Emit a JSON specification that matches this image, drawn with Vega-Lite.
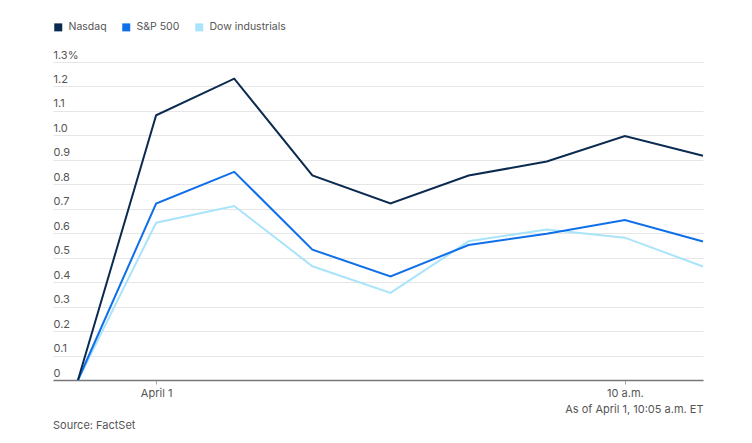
{
  "$schema": "https://vega.github.io/schema/vega-lite/v6.json",
  "width": 650,
  "height": 318,
  "autosize": {"type": "none"},
  "padding": {"left": 53, "top": 62, "right": 49, "bottom": 63},
  "background": "white",
  "config": {
    "font": "Inter",
    "view": {"stroke": null},
    "axis": {"labelFont": "Inter", "titleFont": "Inter"}
  },
  "title": {
    "text": "Source: FactSet",
    "orient": "bottom",
    "anchor": "start",
    "frame": "group",
    "fontSize": 11,
    "fontWeight": "normal",
    "color": "#555555",
    "offset": 6
  },
  "data": {
    "values": [
      {"time": "2025-04-01T09:25:00Z", "series": "Dow industrials", "change": 0},
      {"time": "2025-04-01T09:30:00Z", "series": "Dow industrials", "change": 0.643},
      {"time": "2025-04-01T09:35:00Z", "series": "Dow industrials", "change": 0.711},
      {"time": "2025-04-01T09:40:00Z", "series": "Dow industrials", "change": 0.465},
      {"time": "2025-04-01T09:45:00Z", "series": "Dow industrials", "change": 0.356},
      {"time": "2025-04-01T09:50:00Z", "series": "Dow industrials", "change": 0.567},
      {"time": "2025-04-01T09:55:00Z", "series": "Dow industrials", "change": 0.615},
      {"time": "2025-04-01T10:00:00Z", "series": "Dow industrials", "change": 0.582},
      {"time": "2025-04-01T10:05:00Z", "series": "Dow industrials", "change": 0.464},
      {"time": "2025-04-01T09:25:00Z", "series": "S&P 500", "change": 0},
      {"time": "2025-04-01T09:30:00Z", "series": "S&P 500", "change": 0.721},
      {"time": "2025-04-01T09:35:00Z", "series": "S&P 500", "change": 0.851},
      {"time": "2025-04-01T09:40:00Z", "series": "S&P 500", "change": 0.533},
      {"time": "2025-04-01T09:45:00Z", "series": "S&P 500", "change": 0.423},
      {"time": "2025-04-01T09:50:00Z", "series": "S&P 500", "change": 0.552},
      {"time": "2025-04-01T09:55:00Z", "series": "S&P 500", "change": 0.598},
      {"time": "2025-04-01T10:00:00Z", "series": "S&P 500", "change": 0.654},
      {"time": "2025-04-01T10:05:00Z", "series": "S&P 500", "change": 0.566},
      {"time": "2025-04-01T09:25:00Z", "series": "Nasdaq", "change": 0},
      {"time": "2025-04-01T09:30:00Z", "series": "Nasdaq", "change": 1.082},
      {"time": "2025-04-01T09:35:00Z", "series": "Nasdaq", "change": 1.232},
      {"time": "2025-04-01T09:40:00Z", "series": "Nasdaq", "change": 0.836},
      {"time": "2025-04-01T09:45:00Z", "series": "Nasdaq", "change": 0.722},
      {"time": "2025-04-01T09:50:00Z", "series": "Nasdaq", "change": 0.836},
      {"time": "2025-04-01T09:55:00Z", "series": "Nasdaq", "change": 0.893},
      {"time": "2025-04-01T10:00:00Z", "series": "Nasdaq", "change": 0.997},
      {"time": "2025-04-01T10:05:00Z", "series": "Nasdaq", "change": 0.917}
    ]
  },
  "mark": {"type": "line", "strokeWidth": 2, "strokeJoin": "miter"},
  "encoding": {
    "x": {
      "field": "time",
      "type": "temporal",
      "scale": {"type": "utc", "domain": ["2025-04-01T09:23:24Z", "2025-04-01T10:05:00Z"]},
      "axis": {
        "values": ["2025-04-01T09:30:00Z", "2025-04-01T10:00:00Z"],
        "labelExpr": "utchours(datum.value) == 10 ? '10 a.m.' : 'April 1'",
        "grid": false,
        "domainColor": "#777777",
        "domainWidth": 1.5,
        "tickColor": "#aaaaaa",
        "tickSize": 4,
        "labelColor": "#555555",
        "labelFontSize": 11,
        "labelPadding": 3,
        "labelFlush": false,
        "title": "As of April 1, 10:05 a.m. ET",
        "titleAnchor": "end",
        "titleAlign": "right",
        "titleFontSize": 11,
        "titleFontWeight": "normal",
        "titleColor": "#555555",
        "titlePadding": 5
      }
    },
    "y": {
      "field": "change",
      "type": "quantitative",
      "scale": {"domain": [0, 1.3], "nice": false},
      "axis": {
        "values": [0, 0.1, 0.2, 0.3, 0.4, 0.5, 0.6, 0.7, 0.8, 0.9, 1.0, 1.1, 1.2, 1.3],
        "labelExpr": "datum.value == 0 ? '0' : (abs(datum.value - 1.3) < 0.001 ? '1.3%' : format(datum.value, '.1f'))",
        "domain": false,
        "ticks": false,
        "labelAlign": "left",
        "labelBaseline": "alphabetic",
        "labelPadding": 0,
        "labelOffset": -4,
        "labelColor": "#555555",
        "labelFontSize": 11,
        "gridColor": "#e6e6e6",
        "gridWidth": 1,
        "title": null
      }
    },
    "color": {
      "field": "series",
      "type": "nominal",
      "scale": {
        "domain": ["Nasdaq", "S&P 500", "Dow industrials"],
        "range": ["#0b2a4f", "#0f6fe8", "#a9e4fb"]
      },
      "legend": {
        "orient": "none",
        "legendX": 0,
        "legendY": -40,
        "direction": "horizontal",
        "title": null,
        "symbolType": "square",
        "symbolSize": 64,
        "symbolStrokeWidth": 0,
        "symbolOpacity": 1,
        "labelFont": "Inter",
        "labelFontSize": 10.5,
        "labelColor": "#555555",
        "columnPadding": 14,
        "labelOffset": 5,
        "padding": 0,
        "encode": {
          "symbols": {
            "update": {
              "fill": {"scale": "color", "field": "value"},
              "strokeWidth": {"value": 0}
            }
          }
        }
      }
    }
  }
}
